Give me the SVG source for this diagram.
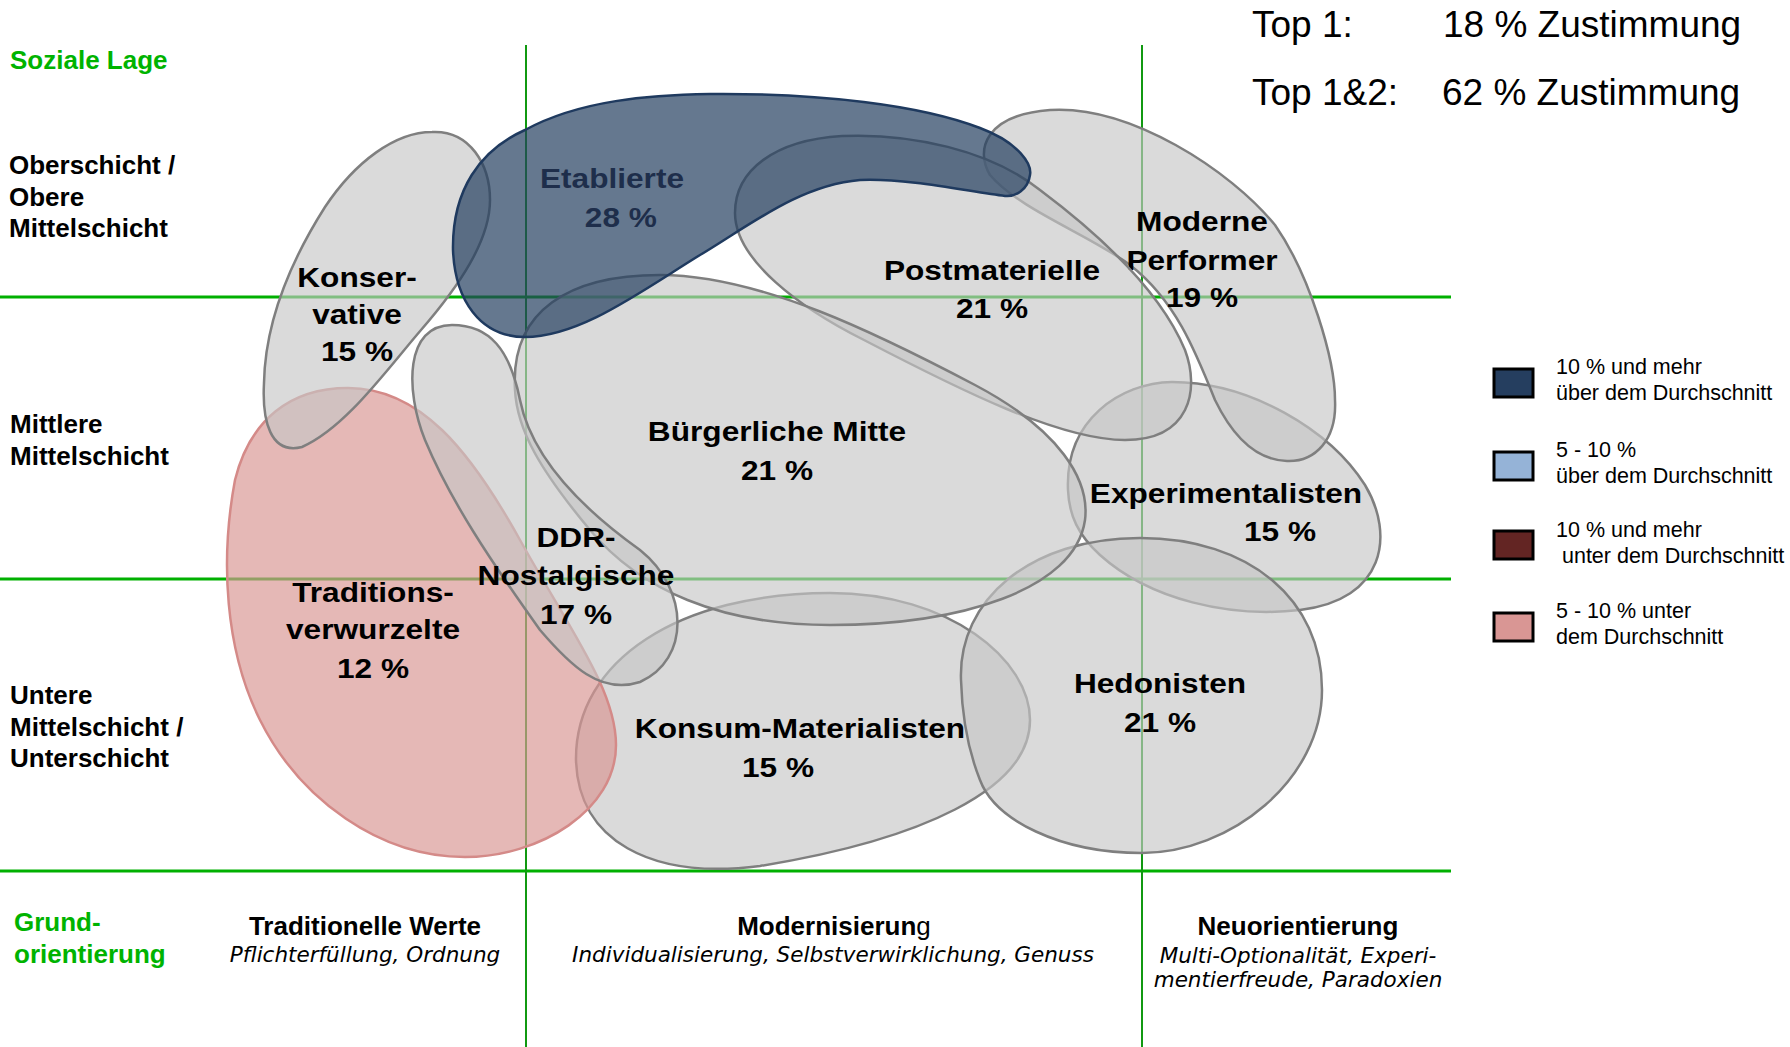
<svg xmlns="http://www.w3.org/2000/svg" width="1790" height="1047" viewBox="0 0 1790 1047">
<style>
text{font-family:"Liberation Sans",Arial,sans-serif;fill:#000}
.ax{font-size:26px;font-weight:bold}
.gr{fill:#00B300}
.hd{font-size:26px;font-weight:bold;text-anchor:middle}
.it{font-family:"DejaVu Sans",sans-serif;font-style:italic;font-size:21.5px;text-anchor:middle}
.top{font-size:37px}
.lg{font-size:21.5px}
.lbl{font-size:28.5px;font-weight:bold;text-anchor:middle}
.blob{fill:#C6C6C6;fill-opacity:0.65;stroke:#7F7F7F;stroke-width:2.5}
.pink{fill:#D99694;fill-opacity:0.68;stroke:#D48A88;stroke-width:2.5}
.blue{fill:#243F60;fill-opacity:0.7;stroke:#1F3A5F;stroke-width:2.5}
.hl{stroke:#00B000;stroke-width:3}
.vl{stroke:#119911;stroke-width:2}
.sq{stroke:#000;stroke-width:3}
</style>
<rect width="1790" height="1047" fill="#fff"/>
<g id="connectors">
<line class="hl" x1="0" y1="297" x2="1451" y2="297"/>
<line class="hl" x1="0" y1="579" x2="1451" y2="579"/>
<line class="hl" x1="0" y1="871" x2="1451" y2="871"/>
<line class="vl" x1="526" y1="45" x2="526" y2="1047"/>
<line class="vl" x1="1142" y1="45" x2="1142" y2="1047"/>
</g>
<g id="axis-labels">
<text class="ax gr" x="10" y="69">Soziale Lage</text>
<text class="ax" x="9" y="174">Oberschicht /</text>
<text class="ax" x="9" y="206">Obere</text>
<text class="ax" x="9" y="237">Mittelschicht</text>
<text class="ax" x="10" y="433">Mittlere</text>
<text class="ax" x="10" y="465">Mittelschicht</text>
<text class="ax" x="10" y="704">Untere</text>
<text class="ax" x="10" y="736">Mittelschicht /</text>
<text class="ax" x="10" y="767">Unterschicht</text>
<text class="ax gr" x="14" y="931">Grund-</text>
<text class="ax gr" x="14" y="963">orientierung</text>
<text class="hd" x="365" y="935">Traditionelle Werte</text>
<text class="it" x="365" y="962">Pflichterfüllung, Ordnung</text>
<text class="hd" x="834" y="935">Modernisierun<tspan font-weight="normal">g</tspan></text>
<text class="it" x="833" y="962">Individualisierung, Selbstverwirklichung, Genuss</text>
<text class="hd" x="1298" y="935">Neuorientierung</text>
<text class="it" x="1298" y="963">Multi-Optionalität, Experi-</text>
<text class="it" x="1298" y="987">mentierfreude, Paradoxien</text>
</g>
<g id="top-values">
<text class="top" x="1252" y="37">Top 1:</text>
<text class="top" x="1443" y="37">18 % Zustimmung</text>
<text class="top" x="1252" y="105">Top 1&amp;2:</text>
<text class="top" x="1442" y="105">62 % Zustimmung</text>
</g>
<g id="konsum-materialisten">
<path class="blob" d="M 576,760 C 575,660 680,593 830,593 C 950,593 1030,660 1030,720 C 1030,790 920,840 760,866 C 650,880 578,840 576,760 Z"/>
<g transform="translate(800 0) scale(1.11 1)"><text class="lbl" x="0" y="738">Konsum-Materialisten</text></g>
<g transform="translate(778 0) scale(1.11 1)"><text class="lbl" x="0" y="777">15 %</text></g>
</g>
<g id="traditionsverwurzelte">
<path class="pink" d="M 348,388 C 420,388 470,450 520,540 C 570,630 616,690 616,745 C 616,810 540,857 465,857 C 380,857 300,800 260,720 C 225,650 220,560 235,480 C 250,420 290,388 348,388 Z"/>
<g transform="translate(373 0) scale(1.11 1)">
<text class="lbl" x="0" y="602">Traditions-</text>
<text class="lbl" x="0" y="639">verwurzelte</text>
<text class="lbl" x="0" y="678">12 %</text>
</g>
</g>
<g id="experimentalisten">
<path class="blob" d="M 1068,490 C 1065,420 1120,383 1172,382 C 1250,382 1330,430 1365,485 C 1395,535 1385,600 1300,610 C 1230,618 1150,600 1100,555 C 1078,535 1069,515 1068,490 Z"/>
<g transform="translate(1226 0) scale(1.11 1)"><text class="lbl" x="0" y="503">Experimentalisten</text></g>
<g transform="translate(1280 0) scale(1.11 1)"><text class="lbl" x="0" y="541">15 %</text></g>
</g>
<g id="hedonisten">
<path class="blob" d="M 961,680 C 958,600 1030,538 1140,538 C 1250,538 1322,600 1322,690 C 1322,780 1230,853 1142,853 C 1060,853 995,820 980,780 C 968,750 962,715 961,680 Z"/>
<g transform="translate(1160 0) scale(1.11 1)">
<text class="lbl" x="0" y="693">Hedonisten</text>
<text class="lbl" x="0" y="732">21 %</text>
</g>
</g>
<g id="moderne-performer">
<path class="blob" d="M 990,175 C 975,150 985,115 1050,110 C 1130,105 1230,170 1275,225 C 1310,275 1335,360 1335,400 C 1337,440 1315,462 1287,461 C 1255,460 1232,435 1215,400 C 1195,350 1175,300 1130,265 C 1090,235 1020,210 990,175 Z"/>
<g transform="translate(1202 0) scale(1.11 1)">
<text class="lbl" x="0" y="231">Moderne</text>
<text class="lbl" x="0" y="270">Performer</text>
<text class="lbl" x="0" y="307">19 %</text>
</g>
</g>
<g id="postmaterielle">
<path class="blob" d="M 735,213 C 735,170 775,140 842,136 C 910,133 990,150 1040,190 C 1100,235 1160,290 1185,350 C 1200,390 1190,440 1125,440 C 1060,440 960,390 864,340 C 800,308 735,260 735,213 Z"/>
<g transform="translate(992 0) scale(1.11 1)">
<text class="lbl" x="0" y="280">Postmaterielle</text>
<text class="lbl" x="0" y="318">21 %</text>
</g>
</g>
<g id="buergerliche-mitte">
<path class="blob" d="M 515,390 C 510,310 570,275 660,275 C 760,275 880,335 975,385 C 1060,430 1090,480 1085,520 C 1075,590 960,625 830,625 C 720,625 640,590 590,530 C 540,470 517,430 515,390 Z"/>
<g transform="translate(777 0) scale(1.11 1)">
<text class="lbl" x="0" y="441">Bürgerliche Mitte</text>
<text class="lbl" x="0" y="480">21 %</text>
</g>
</g>
<g id="ddr-nostalgische">
<path class="blob" d="M 452,325 C 490,325 510,350 520,400 C 530,450 570,500 640,550 C 690,590 690,660 640,682 C 600,695 570,665 540,630 C 490,560 450,500 425,440 C 405,390 405,325 452,325 Z"/>
<g transform="translate(576 0) scale(1.11 1)">
<text class="lbl" x="0" y="547">DDR-</text>
<text class="lbl" x="0" y="585">Nostalgische</text>
<text class="lbl" x="0" y="624">17 %</text>
</g>
</g>
<g id="konservative">
<path class="blob" d="M 432,132 C 470,130 490,165 490,200 C 490,240 460,285 421,330 C 385,372 345,428 302,447 C 270,455 262,420 264,383 C 265,330 285,270 325,207 C 355,162 395,132 432,132 Z"/>
<g transform="translate(357 0) scale(1.11 1)">
<text class="lbl" x="0" y="287">Konser-</text>
<text class="lbl" x="0" y="324">vative</text>
<text class="lbl" x="0" y="361">15 %</text>
</g>
</g>
<g id="etablierte">
<path class="blue" d="M 525,337 C 480,337 455,300 453,250 C 452,190 480,150 525,130 C 580,100 650,95 710,94 C 820,93 920,105 980,128 C 1020,143 1032,165 1030,175 C 1028,190 1015,197 1005,196 C 970,192 910,178 860,180 C 800,185 750,225 700,255 C 640,292 580,337 525,337 Z"/>
<g transform="translate(612 0) scale(1.11 1)">
<text class="lbl" x="0" y="188" style="fill:#1E2E4B">Etablierte</text>
<text class="lbl" x="8" y="227" style="fill:#1E2E4B">28 %</text>
</g>
</g>
<g id="legend">
<rect class="sq" x="1494" y="369" width="39" height="28" fill="#253E5F"/>
<text class="lg" x="1556" y="374">10 % und mehr</text>
<text class="lg" x="1556" y="400">über dem Durchschnitt</text>
<rect class="sq" x="1494" y="452" width="39" height="28" fill="#95B3D7"/>
<text class="lg" x="1556" y="457">5 - 10 %</text>
<text class="lg" x="1556" y="483">über dem Durchschnitt</text>
<rect class="sq" x="1494" y="531" width="39" height="28" fill="#632523"/>
<text class="lg" x="1556" y="537">10 % und mehr</text>
<text class="lg" x="1556" y="563" xml:space="preserve"> unter dem Durchschnitt</text>
<rect class="sq" x="1494" y="613" width="39" height="28" fill="#D99694"/>
<text class="lg" x="1556" y="618">5 - 10 % unter</text>
<text class="lg" x="1556" y="644">dem Durchschnitt</text>
</g>
</svg>
